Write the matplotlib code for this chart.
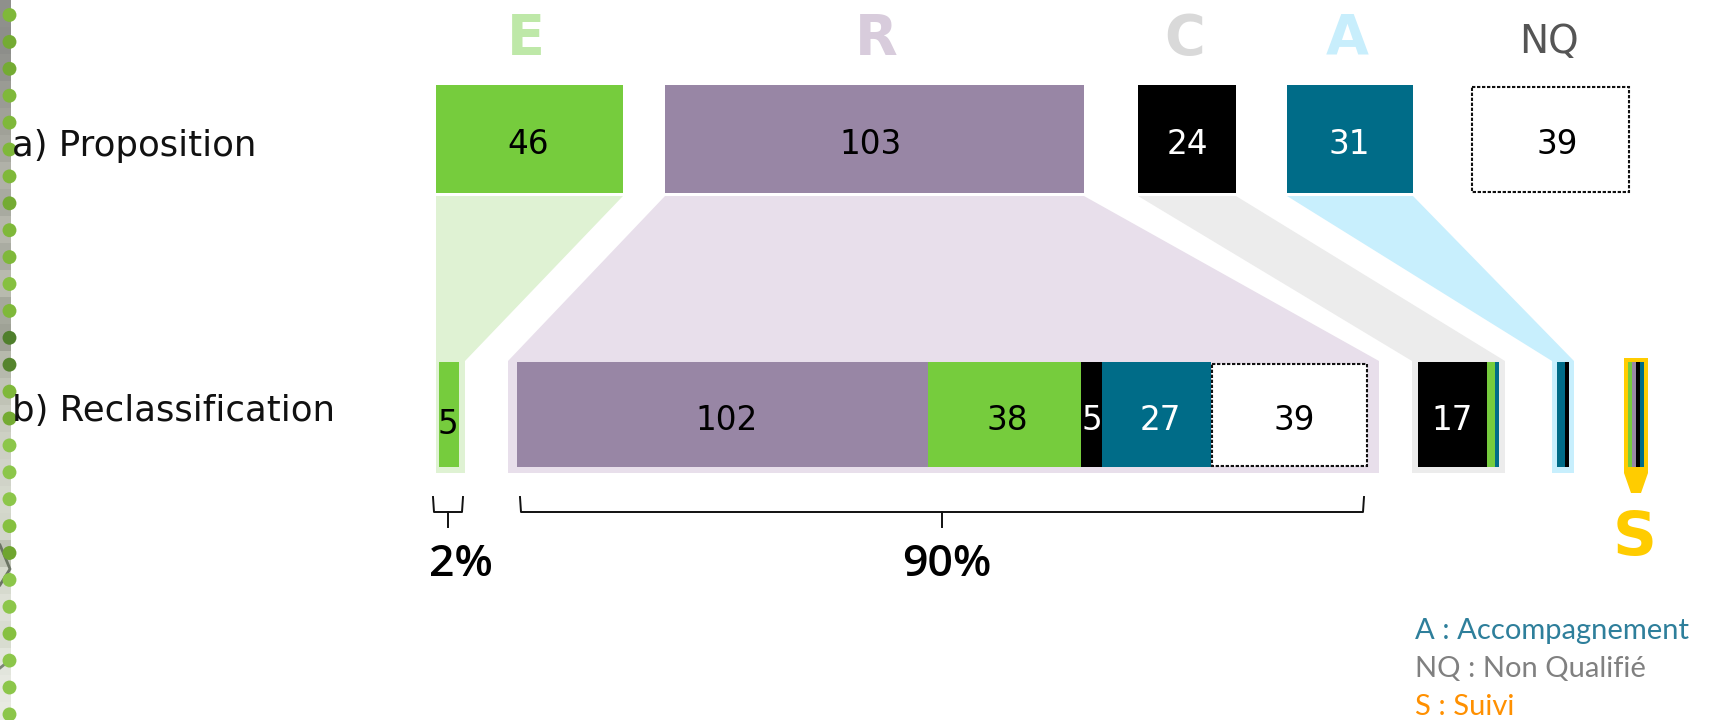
import matplotlib
matplotlib.use("Agg")
import matplotlib.pyplot as plt
from matplotlib.patches import Polygon, Rectangle

#data
categories = ["E", "R", "C", "A", "NQ"]
proposition = [46, 103, 24, 31, 39]
reclass_e = [5]
reclass_r = [102, 38, 5, 27, 39]
reclass_c = [17, 2, 1]
reclass_a = [2, 1]
reclass_s = [1, 1, 1, 1]
bracket_labels = ["2%", "90%"]
row_labels = ["a) Proposition", "b) Reclassification"]
legend_labels = ["A : Accompagnement", "NQ : Non Qualifié", "S : Suivi"]

#colors
green = "#76CC3D"
purple = "#9886A5"
black = "#000000"
teal = "#006C88"
white = "#FFFFFF"
strip_colors = ["#8f908c", "#8d8e8a", "#92938e", "#9a9b94", "#a0a198", "#a6a79e", "#b0b1a8",
                "#a8aaa0", "#b5b6ac", "#aaaca2", "#b8baae", "#a5a89c", "#9fa296", "#b6b9ac",
                "#c0c3b6", "#c8cbbf", "#cdd0c4", "#d0d3c8", "#d4d8cc", "#d2d6ca", "#bfc4b6",
                "#d6dace", "#dde0d6", "#d8dcd0", "#e2e5dc", "#e6e8e0", "#e8eae2"]
dot_colors = ["#7fb83a", "#74ab33", "#74ab33", "#7fb83a", "#7fb83a", "#7fb83a", "#7fb83a",
              "#74ab33", "#7fb83a", "#7fb83a", "#86c040", "#7fb83a", "#4f7f2c", "#55842d",
              "#7fb83a", "#74ab33", "#8cc64a", "#8cc64a", "#8cc64a", "#86c040", "#6fa52f",
              "#8cc64a", "#8cc64a", "#86c040", "#8cc64a", "#8cc64a", "#8cc64a"]

unit_top = 4.07  #pixels per item, top row
unit_bot = 4.035  #bottom row is drawn a little tighter
bar_h = 105

fig = plt.figure(figsize=(17.09, 7.2), dpi=100)
ax = fig.add_axes([0, 0, 1, 1])
ax.set_xlim(0, 1709)
ax.set_ylim(720, 0)
ax.axis("off")


def stacked(x0, values, colors, top, height, unit):
    #draw one stacked bar, width is proportional to the count
    x = x0
    for v, c in zip(values, colors):
        w = v * unit
        if c == white:
            ax.bar(x + 1, height - 3, w - 2, bottom=top + 1.5, align="edge", color=white,
                   edgecolor="#111111", linewidth=1.5, linestyle=(0, (1.6, 0.8)), zorder=3)
        else:
            ax.bar(x, height, w, bottom=top, align="edge", color=c, linewidth=0, zorder=3)
        x += w


def funnel(top_l, top_r, bot_l, bot_r, color):
    pts = [(top_l, 196), (top_r, 196), (bot_r, 361), (bot_r, 473), (bot_l, 473), (bot_l, 361)]
    ax.add_patch(Polygon(pts, closed=True, facecolor=color, edgecolor="none", zorder=1))


def bracket(x0, x1, xm):
    ax.plot([x0, x0 + 1, x1 - 1, x1], [497, 512, 512, 497], color="#111111", lw=1.4, zorder=4)
    ax.plot([xm, xm], [512, 527], color="#111111", lw=1.4, zorder=4)


#left photo strip with the dots
for i, c in enumerate(strip_colors):
    ax.add_patch(Rectangle((0, i * 27), 11, 27, facecolor=c, edgecolor="none", zorder=1))
ax.plot([0, 10, 0], [545, 569, 585], color="#6b7464", lw=2, zorder=1.5)
ax.plot([0, 10], [668, 660], color="#7d8676", lw=2, zorder=1.5)
ax.scatter([9.5] * len(dot_colors), [15 + i * 26.9 for i in range(len(dot_colors))],
           s=100, c=dot_colors, linewidths=0, zorder=2)

#top row
top_x = [436, 665, 1138, 1287, 1471]
top_colors = [green, purple, black, teal, white]
for x, v, c in zip(top_x, proposition, top_colors):
    stacked(x, [v], [c], 85, 108, unit_top)

#funnels
funnel(436, 623, 436, 465, "#DFF2D3")
funnel(665, 1084, 508, 1379, "#E8DFEB")
funnel(1138, 1236, 1412, 1505, "#ECECEC")
funnel(1287, 1413, 1552, 1574, "#C8EFFD")

#pencil for S
ax.add_patch(Polygon([(1624, 358), (1648, 358), (1648, 473), (1641, 493), (1631, 493), (1624, 473)],
                     closed=True, facecolor="#FFCC00", edgecolor="none", zorder=1))

#bottom row
stacked(439, reclass_e, [green], 362, bar_h, unit_bot)
stacked(516.5, reclass_r, [purple, green, black, teal, white], 362, bar_h, unit_bot)
stacked(1418, reclass_c, [black, green, teal], 362, bar_h, unit_bot)
stacked(1557, reclass_a, [teal, black], 362, bar_h, unit_bot)
stacked(1628, reclass_s, [green, purple, black, teal], 362, bar_h, unit_bot)

#numbers
num_size = 23.5
for x, v, c in zip([528, 871, 1187, 1349, 1557], proposition, ["black", "black", "white", "white", "black"]):
    ax.text(x, 144, str(v), ha="center", va="center", fontsize=num_size, color=c, zorder=5)
ax.text(448, 424, str(reclass_e[0]), ha="center", va="center", fontsize=num_size, color="black", zorder=5)
for x, v, c in zip([727, 1007, 1092, 1160, 1294], reclass_r, ["black", "black", "white", "white", "black"]):
    ax.text(x, 421, str(v), ha="center", va="center", fontsize=num_size, color=c, zorder=5)
ax.text(1452, 421, str(reclass_c[0]), ha="center", va="center", fontsize=num_size, color="white", zorder=5)

#letters on top
for x, s, c in zip([526, 876, 1185, 1347], categories, ["#BEE8A8", "#D8CCDC", "#D9D9D9", "#C8EEFC"]):
    ax.text(x, 39, s, ha="center", va="center", fontsize=40, fontweight="bold", color=c)
ax.text(1549, 42, categories[4], ha="center", va="center", fontsize=28, color="#555555")
ax.text(1635, 538, "S", ha="center", va="center", fontsize=44, fontweight="bold", color="#FFCC00")

#row labels
ax.text(12, 146, row_labels[0], ha="left", va="center", fontsize=25.6, color="#111111", zorder=5)
ax.text(12, 411, row_labels[1], ha="left", va="center", fontsize=25.6, color="#111111", zorder=5)

#brackets
bracket(433, 463, 448)
bracket(520, 1364, 942)
ax.text(461, 564, bracket_labels[0], ha="center", va="center", fontsize=32, fontweight="semibold",
        family="Open Sans", color="black")
ax.text(947, 564, bracket_labels[1], ha="center", va="center", fontsize=32, fontweight="semibold",
        family="Open Sans", color="black")

#legend text
for y, s, c in zip([631, 669, 707], legend_labels, ["#2E7F9B", "#808080", "#FF9000"]):
    ax.text(1415, y, s, ha="left", va="center", fontsize=21, family="Lato", color=c)

fig.savefig("out.png", dpi=100)
